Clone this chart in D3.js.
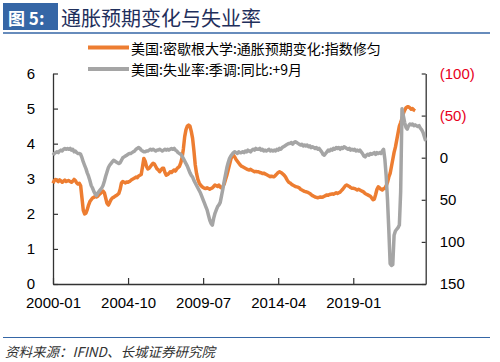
<!DOCTYPE html>
<html>
<head>
<meta charset="utf-8">
<script src="https://d3js.org/d3.v7.min.js"></script>
<style>
  body { margin: 0; background: #ffffff; }
  svg { display: block; font-family: "Liberation Sans", Arial, sans-serif; }
  .cjk { font-family: "Noto Sans CJK SC", sans-serif; }
</style>
</head>
<body>
<div id="chart"></div>
<script>
// month index 0 = 2000-01
var xTickLabels = ["2000-01", "2004-10", "2009-07", "2014-04", "2019-01"];
var leftTicks = [0, 1, 2, 3, 4, 5, 6];
var rightTicks = [-100, -50, 0, 50, 100, 150];
var seriesNames = ["美国:密歇根大学:通胀预期变化:指数修匀", "美国:失业率:季调:同比:+9月"];

// 美国:密歇根大学:通胀预期变化:指数修匀 (left axis), 2000-01 .. 2022-12
var inflExp = [
  2.87, 2.95, 2.98, 2.95, 2.92, 2.97, 2.94, 2.90, 2.93, 2.96, 2.92, 2.94,
  2.95, 2.92, 2.90, 2.93, 2.98, 2.95, 2.88, 2.85, 2.87, 2.80, 2.45, 2.10,
  2.00, 2.02, 2.12, 2.25, 2.35, 2.40, 2.45, 2.47, 2.50, 2.48, 2.50, 2.55,
  2.58, 2.62, 2.65, 2.60, 2.45, 2.30, 2.25, 2.32, 2.40, 2.45, 2.47, 2.50,
  2.52, 2.55, 2.58, 2.70, 2.88, 2.92, 2.90, 2.88, 2.91, 2.90, 2.92, 2.95,
  2.98, 3.00, 3.02, 3.05, 3.03, 3.08, 3.10, 3.12, 3.35, 3.58, 3.50, 3.35,
  3.28, 3.30, 3.35, 3.40, 3.44, 3.42, 3.35, 3.28, 3.25, 3.20, 3.25, 3.30,
  3.30, 3.18, 3.10, 3.12, 3.15, 3.20, 3.18, 3.22, 3.25, 3.22, 3.28, 3.32,
  3.35, 3.45, 3.60, 3.85, 4.20, 4.40, 4.50, 4.53, 4.50, 4.35, 4.15, 3.80,
  3.40, 3.15, 2.98, 2.88, 2.82, 2.78, 2.75, 2.73, 2.72, 2.74, 2.72, 2.70,
  2.72, 2.74, 2.78, 2.82, 2.80, 2.78, 2.82, 2.76, 2.74, 2.78, 2.85, 2.98,
  3.10, 3.25, 3.40, 3.55, 3.65, 3.67, 3.62, 3.55, 3.50, 3.45, 3.40, 3.36,
  3.34, 3.32, 3.30, 3.28, 3.26, 3.25, 3.27, 3.24, 3.22, 3.20, 3.21, 3.20,
  3.20, 3.18, 3.17, 3.15, 3.16, 3.14, 3.12, 3.10, 3.08, 3.06, 3.07, 3.06,
  3.06, 3.10, 3.14, 3.18, 3.20, 3.18, 3.15, 3.12, 3.08, 3.02, 2.95, 2.90,
  2.88, 2.85, 2.82, 2.80, 2.78, 2.77, 2.76, 2.74, 2.70, 2.68, 2.66, 2.64,
  2.63, 2.62, 2.60, 2.58, 2.55, 2.52, 2.50, 2.48, 2.47, 2.46, 2.47, 2.48,
  2.47, 2.48, 2.50, 2.52, 2.54, 2.53, 2.55, 2.56, 2.57, 2.56, 2.58, 2.60,
  2.58, 2.60, 2.62, 2.66, 2.70, 2.75, 2.80, 2.82, 2.80, 2.78, 2.75, 2.73,
  2.73, 2.72, 2.70, 2.68, 2.70, 2.68, 2.66, 2.64, 2.62, 2.58, 2.56, 2.54,
  2.52, 2.50, 2.45, 2.40, 2.42, 2.55, 2.70, 2.77, 2.74, 2.70, 2.68, 2.72,
  2.72, 2.80, 2.90, 3.05, 3.15, 3.35, 3.55, 3.75, 3.90, 4.10, 4.30, 4.50,
  4.60, 4.72, 4.86, 4.95, 5.02, 5.05, 5.05, 5.02, 4.98, 5.00, 4.96, 4.94
];

// 美国:失业率:季调:同比:+9月 (right axis, reversed), 2000-01 .. 2023-08
var unempYoY = [
  -3, -5, -6, -7, -6, -8, -9, -8, -10, -11, -10, -11,
  -10, -11, -9, -10, -7, -8, -6, -5, -5, -4, 0, 5,
  9, 13, 18, 22, 27, 33, 36, 40, 43, 45, 42, 40,
  38, 36, 33, 28, 22, 17, 12, 9, 7, 5, 3, 4,
  5, 6, 7, 6, 3, 0, -1, -2, -3, -4, -5, -5,
  -6, -7, -8, -10, -11, -12, -11, -9, -8, -7, -7, -8,
  -8, -9, -10, -9, -10, -9, -8, -9, -9, -10, -9, -8,
  -9, -10, -9, -10, -9, -10, -11, -10, -11, -9, -8, -6,
  -5, -4, -2, 1, 4, 7, 10, 14, 18, 21, 23, 27,
  30, 33, 36, 39, 42, 46, 50, 54, 58, 62, 68, 74,
  78, 80, 72, 66, 62, 58, 56, 53, 45, 37, 28, 20,
  12, 6, 1, -2, -4, -6, -7, -6, -5, -7, -6, -6,
  -7, -6, -8, -7, -9, -8, -7, -9, -10, -9, -11, -10,
  -10, -11, -9, -10, -8, -9, -8, -9, -10, -8, -9, -8,
  -9, -8, -10, -9, -11, -10, -12, -13, -14, -15, -16, -17,
  -17, -18, -16, -18, -19, -18, -17, -16, -15, -16, -14, -15,
  -14, -15, -13, -14, -12, -13, -12, -11, -12, -10, -11, -9,
  -7, -4, -3, -5, -7, -9, -8, -10, -9, -11, -10, -12,
  -11, -12, -10, -12, -11, -13, -12, -11, -10, -11, -9, -10,
  -9, -10, -8, -9, -8, -9, -7, -5, -2, -1, -3, -4,
  -3, -5, -4, -5, -6, -4, -6, -5, -6, -5, -8, -10,
  2, 22, 50, 86, 126, 128, 127, 92, 87, 85, 83, 80,
  40, -58, -50, -42, -36, -34, -38, -40, -39, -40, -38, -39,
  -38, -37, -38, -35, -33, -30, -25, -20
];

var W = 500, H = 362;
var plot = { left: 53, right: 425.7, top: 73.5, bottom: 284 };

var svg = d3.select("#chart").append("svg")
  .attr("width", W)
  .attr("height", H);

// title bar
svg.append("rect")
  .attr("x", 3).attr("y", 3)
  .attr("width", 55).attr("height", 27)
  .style("fill", "#3566a6");
svg.append("text")
  .attr("x", 8).attr("y", 17)
  .attr("dominant-baseline", "central")
  .style("font-family", "'Noto Sans CJK SC', 'Liberation Serif', serif")
  .style("font-size", "17px")
  .style("font-weight", "bold")
  .style("fill", "#ffffff")
  .text("图 5:");
svg.append("text")
  .attr("class", "cjk")
  .attr("x", 61).attr("y", 17)
  .attr("dominant-baseline", "central")
  .style("font-size", "20px")
  .style("fill", "#1f2f5c")
  .text("通胀预期变化与失业率");
svg.append("line")
  .attr("x1", 3).attr("x2", 490)
  .attr("y1", 33).attr("y2", 33)
  .style("stroke", "#3566a6")
  .style("stroke-width", 1.5);

// footer
svg.append("line")
  .attr("x1", 3).attr("x2", 490)
  .attr("y1", 337.5).attr("y2", 337.5)
  .style("stroke", "#3566a6")
  .style("stroke-width", 1.2);
svg.append("text")
  .attr("class", "cjk")
  .attr("x", 5).attr("y", 351)
  .attr("dominant-baseline", "central")
  .style("font-size", "13.5px")
  .style("font-style", "italic")
  .style("fill", "#333333")
  .text("资料来源：IFIND、长城证券研究院");

// scales
var x = d3.scaleLinear().domain([0, 283]).range([plot.left, plot.right]);
var yL = d3.scaleLinear().domain([0, 6]).range([plot.bottom, plot.top]);
var yR = d3.scaleLinear().domain([-100, 150]).range([plot.top, plot.bottom]);

function monthIndex(label) {
  var p = label.split("-");
  return (+p[0] - 2000) * 12 + (+p[1] - 1);
}

// axes
var xAxis = d3.axisBottom(x)
  .tickValues(xTickLabels.map(monthIndex))
  .tickFormat(function(d, i) { return xTickLabels[i]; })
  .tickSizeInner(-6).tickSizeOuter(0).tickPadding(13);
var gx = svg.append("g")
  .attr("transform", "translate(0," + plot.bottom + ")")
  .call(xAxis);

var gl = svg.append("g")
  .attr("transform", "translate(" + plot.left + ",0)")
  .call(d3.axisLeft(yL).tickValues(leftTicks).tickFormat(d3.format("d"))
    .tickSizeInner(-5).tickSizeOuter(0).tickPadding(18));

var gr = svg.append("g")
  .attr("transform", "translate(" + plot.right + ",0)")
  .call(d3.axisRight(yR).tickValues(rightTicks)
    .tickFormat(function(d) { return d < 0 ? "(" + (-d) + ")" : String(d); })
    .tickSizeInner(-4).tickSizeOuter(0).tickPadding(14));

[gx, gl, gr].forEach(function(g) {
  g.selectAll("path.domain").style("stroke", "#333333").style("stroke-width", 1.3);
  g.selectAll(".tick line").style("stroke", "#333333").style("stroke-width", 1.2);
  g.selectAll(".tick text")
    .style("font-family", "'Liberation Sans', Arial, sans-serif")
    .style("font-size", "15px")
    .style("fill", "#000000");
});
gr.selectAll(".tick text")
  .style("fill", function(d) { return d < 0 ? "#e8001c" : "#000000"; });

// lines
var lineL = d3.line()
  .x(function(d, i) { return x(i); })
  .y(function(d) { return yL(d); });
var lineR = d3.line()
  .x(function(d, i) { return x(i); })
  .y(function(d) { return yR(d); });

svg.append("path")
  .datum(inflExp)
  .attr("d", lineL)
  .style("fill", "none")
  .style("stroke", "#ed7d31")
  .style("stroke-width", 3.5)
  .style("stroke-linejoin", "round");

svg.append("path")
  .datum(unempYoY)
  .attr("d", lineR)
  .style("fill", "none")
  .style("stroke", "#a5a5a5")
  .style("stroke-width", 3.5)
  .style("stroke-linejoin", "round");

// legend
var legendColors = ["#ed7d31", "#a5a5a5"];
var legend = svg.append("g");
seriesNames.forEach(function(name, i) {
  var ly = 47.5 + i * 21.5;
  legend.append("line")
    .attr("x1", 88).attr("x2", 129)
    .attr("y1", ly).attr("y2", ly)
    .style("stroke", legendColors[i])
    .style("stroke-width", 4);
  legend.append("text")
    .attr("class", "cjk")
    .attr("x", 131).attr("y", ly)
    .attr("dominant-baseline", "central")
    .style("font-size", "14px")
    .style("fill", "#000000")
    .text(name);
});
</script>
</body>
</html>
